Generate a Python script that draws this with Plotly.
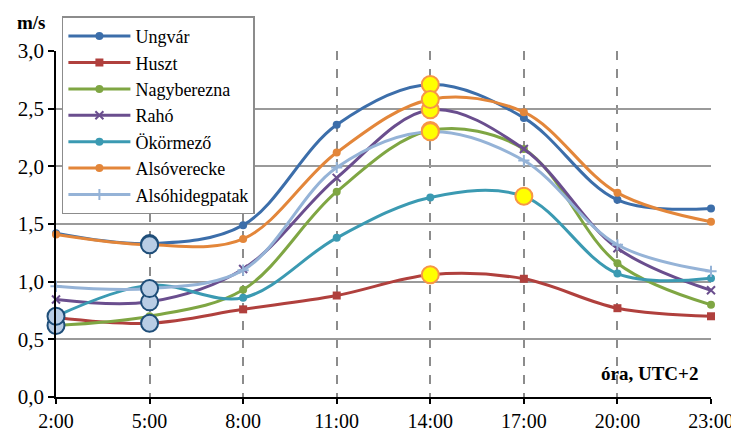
import plotly.graph_objects as go

hours = ["2:00", "5:00", "8:00", "11:00", "14:00", "17:00", "20:00", "23:00"]
ungvar = [1.42, 1.33, 1.49, 2.36, 2.71, 2.42, 1.71, 1.635]
huszt = [0.69, 0.64, 0.76, 0.88, 1.06, 1.025, 0.77, 0.70]
nagyberezna = [0.62, 0.70, 0.93, 1.78, 2.31, 2.15, 1.16, 0.80]
raho = [0.845, 0.825, 1.11, 1.90, 2.49, 2.15, 1.29, 0.925]
okormezo = [0.70, 0.97, 0.86, 1.38, 1.73, 1.74, 1.07, 1.03]
alsoverecke = [1.41, 1.32, 1.37, 2.12, 2.58, 2.47, 1.77, 1.52]
alsohidegpatak = [0.96, 0.94, 1.10, 1.99, 2.30, 2.05, 1.32, 1.09]

series = [
    ("Ungvár", ungvar, "#3C6EAA", "circle"),
    ("Huszt", huszt, "#B0403D", "square"),
    ("Nagyberezna", nagyberezna, "#7FA643", "circle"),
    ("Rahó", raho, "#6A4E8E", "x-thin"),
    ("Ökörmező", okormezo, "#3B9AB2", "circle"),
    ("Alsóverecke", alsoverecke, "#E3863A", "circle"),
    ("Alsóhidegpatak", alsohidegpatak, "#95B3D7", "cross-thin"),
]

FONT = "Liberation Serif"
xs = list(range(len(hours)))

fig = go.Figure()
for i, (name, vals, color, sym) in enumerate(series):
    thin = sym.endswith("thin")
    fig.add_trace(go.Scatter(
        x=xs, y=vals, name=name, mode="lines+markers", legendgroup=f"g{i}",
        line=dict(color=color, width=3, shape="spline", smoothing=1),
        marker=dict(symbol=sym, size=8, color=color,
                    line=dict(color=color, width=2 if thin else 0)),
        cliponaxis=False,
    ))

# highlight max (yellow) and min (light blue) points
for name, vals, color, sym in series:
    imax = max(range(len(vals)), key=lambda i: vals[i])
    imin = min(range(len(vals)), key=lambda i: vals[i])
    fig.add_trace(go.Scatter(
        x=[xs[imin]], y=[vals[imin]], mode="markers", showlegend=False,
        marker=dict(symbol="circle", size=17, color="#B9CDE5",
                    line=dict(color="#1F4E79", width=2)),
        cliponaxis=False, hoverinfo="skip"))
    fig.add_trace(go.Scatter(
        x=[xs[imax]], y=[vals[imax]], mode="markers", showlegend=False,
        marker=dict(symbol="circle", size=17, color="#FFFF00",
                    line=dict(color="#F79646", width=2)),
        cliponaxis=False, hoverinfo="skip"))

fig.update_layout(
    width=739, height=432,
    margin=dict(l=48, r=36, t=43, b=43, autoexpand=False),
    paper_bgcolor="white", plot_bgcolor="white",
    separators=", ",
    font=dict(family=FONT, size=18, color="black"),
    showlegend=True,
    legend=dict(
        x=0.009, y=1.1, xanchor="left", yanchor="top",
        bgcolor="white", bordercolor="#8C8C8C", borderwidth=1.5,
        font=dict(family=FONT, size=18, color="black"),
        itemwidth=62, tracegroupgap=0, traceorder="grouped",
    ),
    xaxis=dict(
        range=[0, 7], tickmode="array", tickvals=xs, ticktext=hours,
        showgrid=True, gridcolor="#8C8C8C", gridwidth=1.5, griddash="dash",
        showline=True, linecolor="black", linewidth=1.5,
        ticks="outside", ticklen=5, tickcolor="black", tickwidth=1.5,
        zeroline=False, tickfont=dict(family=FONT, size=20), automargin=False,
    ),
    yaxis=dict(
        range=[0, 3], dtick=0.5, tickformat=".1f",
        showgrid=True, gridcolor="#9A9A9A", gridwidth=1.5,
        showline=True, linecolor="black", linewidth=1.5,
        ticks="outside", ticklen=6, tickcolor="black", tickwidth=1.5,
        zeroline=False, tickfont=dict(family=FONT, size=21), automargin=False,
    ),
    annotations=[
        dict(text="<b>m/s</b>", xref="paper", yref="paper", x=-0.037, y=1.081,
             xanchor="center", yanchor="middle", showarrow=False,
             font=dict(family=FONT, size=19)),
        dict(text="<b>óra, UTC+2</b>", xref="paper", yref="paper", x=0.983, y=0.069,
             xanchor="right", yanchor="middle", showarrow=False,
             font=dict(family=FONT, size=19)),
    ],
)

fig.write_html("out.html")
